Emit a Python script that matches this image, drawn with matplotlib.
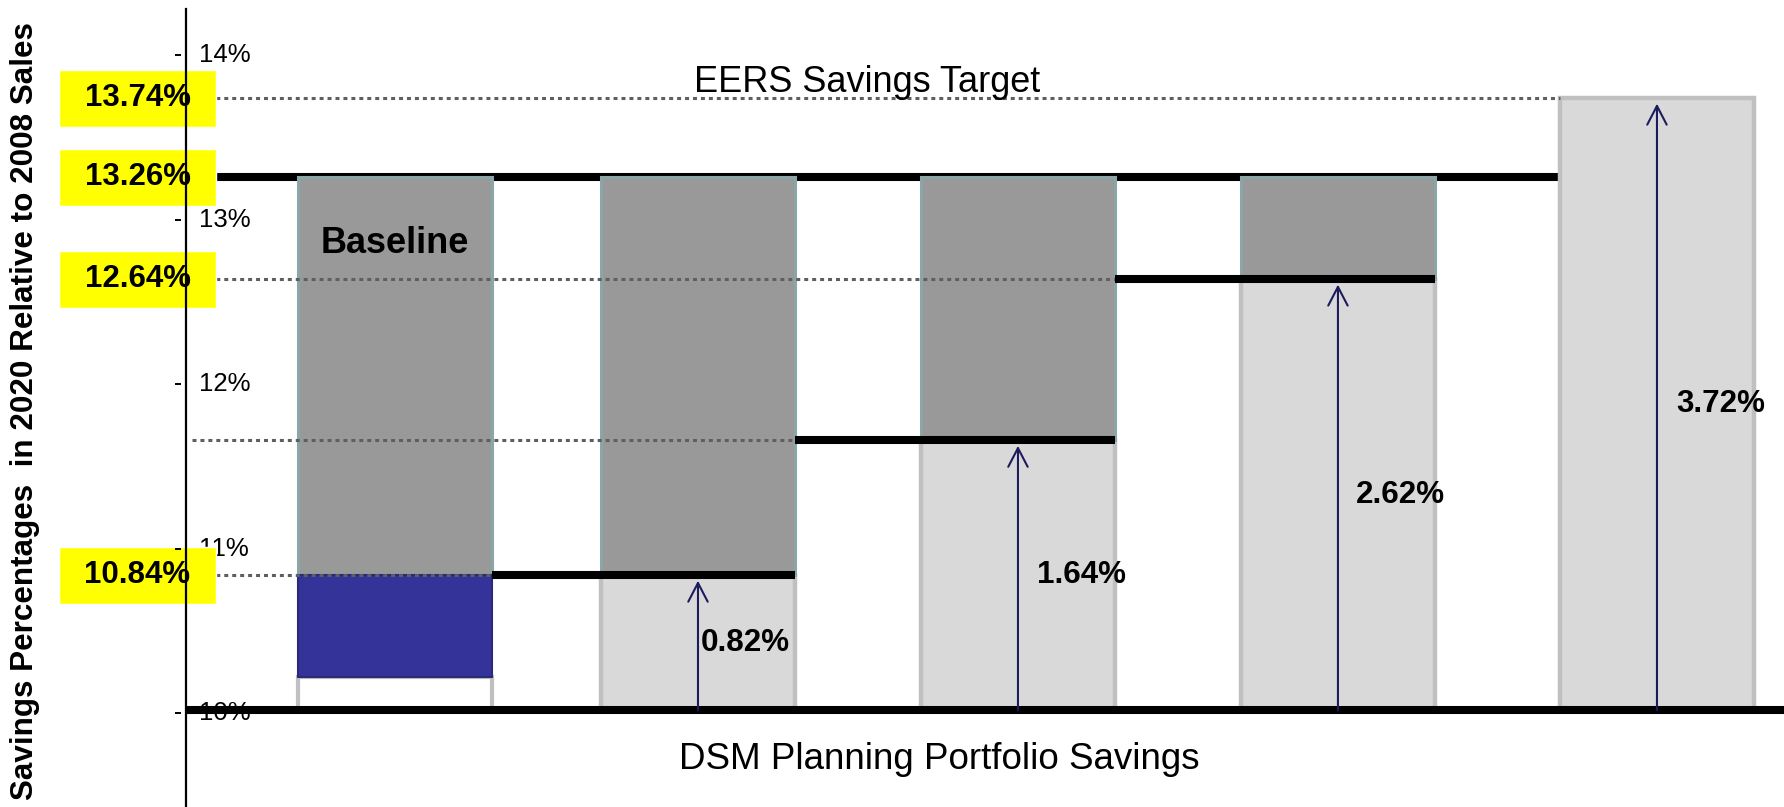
import matplotlib
matplotlib.use("Agg")
import matplotlib.pyplot as plt
import matplotlib.transforms as mtransforms
from matplotlib.patches import Rectangle
from matplotlib import font_manager

# ---------------- data ----------------
base_level = 10.02            # bottom reference line (%)
baseline_total = 13.26        # baseline level (%)
eers_target = 13.74           # EERS savings target (%)
dsm_savings = [0.82, 1.64, 2.62, 3.72]        # savings for bars 2..5 (%)
baseline_segments = [0.20, 0.62]              # bar 1: white part, blue part (%)
box_values = [13.74, 13.26, 12.64, 10.84]     # yellow callouts (%)
box_labels = ["13.74%", "13.26%", "12.64%", "10.84%"]
yticks = [10, 11, 12, 13, 14]
ytick_labels = ["10%", "11%", "12%", "13%", "14%"]
savings_labels = ["0.82%", "1.64%", "2.62%", "3.72%"]

# ---------------- layout ----------------
W, H = 1784, 807
x_pos = [0.053, 1.0, 2.0, 3.0, 3.997]
bar_w = 0.606
label_dx_pt = [2, 14, 13, 14]

levels = [base_level + s for s in dsm_savings]

installed = {f.name for f in font_manager.fontManager.ttflist}
FONT = "Liberation Sans"
if "Liberation Sans Narrow" in installed:
    NARROW, nscale = "Liberation Sans Narrow", 1.0
else:
    NARROW, nscale = "Liberation Sans", 0.82

fig = plt.figure(figsize=(W / 100, H / 100), dpi=100)
ax = fig.add_axes([185.5 / W, 0, 1598.5 / W, 798 / H])
ax.set_xlim(-0.6016, 4.394)
ax.set_ylim(9.4305, 14.2816)
for s in ["top", "right", "bottom"]:
    ax.spines[s].set_visible(False)
ax.spines["left"].set_linewidth(1.6)
ax.spines["left"].set_zorder(20)
ax.set_xticks([])
ax.set_yticks(yticks)
ax.tick_params(axis="y", length=0, labelleft=False)

dark_grey = "#999999"
grey_edge = "#8ba6a8"
light = "#d9d9d9"
light_edge = "#c0c0c0"
navy = "#1c1c5c"

# tick marks (detached dashes) and labels right of the axis
blend = mtransforms.blended_transform_factory(ax.transAxes, ax.transData)
tick_tr = blend + mtransforms.ScaledTranslation(-0.075, 0, fig.dpi_scale_trans)
ax.plot([0] * len(yticks), yticks, linestyle="none", marker="_", markersize=5,
        markeredgewidth=1.4, color="black", transform=tick_tr, clip_on=False, zorder=21)
for v, lab in zip(yticks, ytick_labels):
    ax.text(0.0085, v, lab, transform=blend, ha="left", va="center",
            fontsize=18.5, family=FONT, color="black", zorder=1)

half = bar_w / 2
# bar 1 (baseline)
ax.bar(x_pos[0], baseline_segments[0], bottom=base_level, width=bar_w,
       color="white", edgecolor=light_edge, linewidth=3.0, zorder=2)
ax.bar(x_pos[0], baseline_segments[1], bottom=base_level + baseline_segments[0],
       width=bar_w, color="#333399", edgecolor="#2a2a7a", linewidth=1.5, zorder=2.1)
ax.bar(x_pos[0], baseline_total - levels[0], bottom=levels[0], width=bar_w,
       color=dark_grey, edgecolor=grey_edge, linewidth=2.2, zorder=2)

# bars 2..4
for i in range(3):
    x = x_pos[i + 1]
    ax.bar(x, dsm_savings[i], bottom=base_level, width=bar_w, color=light,
           edgecolor=light_edge, linewidth=3.2, zorder=2)
    ax.bar(x, baseline_total - levels[i], bottom=levels[i], width=bar_w,
           color=dark_grey, edgecolor=grey_edge, linewidth=2.2, zorder=2.1)
# bar 5
ax.bar(x_pos[4], dsm_savings[3], bottom=base_level, width=bar_w, color=light,
       edgecolor=light_edge, linewidth=3.2, zorder=2)

xmin = ax.get_xlim()[0]
xmax = ax.get_xlim()[1]
dot_start = -0.581
dotted = dict(color="#5f5f5f", linewidth=2.2, linestyle=(0, (1.3, 1.3)),
              solid_capstyle="butt", zorder=5)
thick = dict(color="black", linewidth=5.8, solid_capstyle="butt")

# baseline level line (behind bars) and bottom line
ax.plot([xmin, x_pos[4] - half], [baseline_total] * 2, zorder=1.5, **thick)
ax.plot([xmin, xmax], [base_level] * 2, zorder=6, **thick)

# step lines
for i in range(3):
    ax.plot([dot_start, x_pos[i] + half], [levels[i]] * 2, **dotted)
    ax.plot([x_pos[i] + half, x_pos[i + 1] + half], [levels[i]] * 2, zorder=6, **thick)
ax.plot([dot_start, x_pos[4] - half], [levels[3]] * 2, **dotted)

# arrows and savings labels
for i in range(4):
    x = x_pos[i + 1]
    ax.annotate("", xy=(x, levels[i]), xytext=(x, base_level),
                arrowprops=dict(arrowstyle="->,head_length=1.35,head_width=0.7",
                                mutation_scale=10, lw=1.5, color=navy,
                                shrinkA=0, shrinkB=4), zorder=7)
    ax.annotate(savings_labels[i], xy=(x, (base_level + levels[i]) / 2),
                xytext=(label_dx_pt[i], 0), textcoords="offset points",
                ha="left", va="center", fontsize=27.5 * nscale, fontweight="bold",
                family=NARROW, zorder=8)

# yellow callout boxes
box_x0, box_x1 = -0.997, -0.506
box_h = 0.3465
for v, lab in zip(box_values, box_labels):
    ax.add_patch(Rectangle((box_x0, v - box_h / 2), box_x1 - box_x0, box_h,
                           facecolor="#ffff00", edgecolor="white", linewidth=1.0,
                           clip_on=False, zorder=9))
    ax.text((box_x0 + box_x1) / 2, v, lab, ha="center", va="center",
            fontsize=22.5, fontweight="bold", family=FONT, clip_on=False, zorder=10)

# texts
ax.annotate("EERS Savings Target", xy=(1.528, eers_target), xytext=(0, 11.5),
            textcoords="offset points", ha="center", va="center",
            fontsize=26, family=FONT, zorder=8)
ax.annotate("DSM Planning Portfolio Savings", xy=(1.753, base_level), xytext=(0, -35.3),
            textcoords="offset points", ha="center", va="center",
            fontsize=26.5, family=FONT, zorder=8)
ax.annotate("Baseline", xy=(x_pos[0], baseline_total), xytext=(0, -47.5),
            textcoords="offset points", ha="center", va="center",
            fontsize=26, fontweight="bold", family=FONT, zorder=8)

ax.set_ylabel("Savings Percentages  in 2020 Relative to 2008 Sales",
              fontsize=27.5 * nscale, fontweight="bold", family=NARROW, va="center")
ax.yaxis.set_label_coords(-0.1004, 0.496)

fig.savefig("out.png", dpi=100, facecolor="white")
